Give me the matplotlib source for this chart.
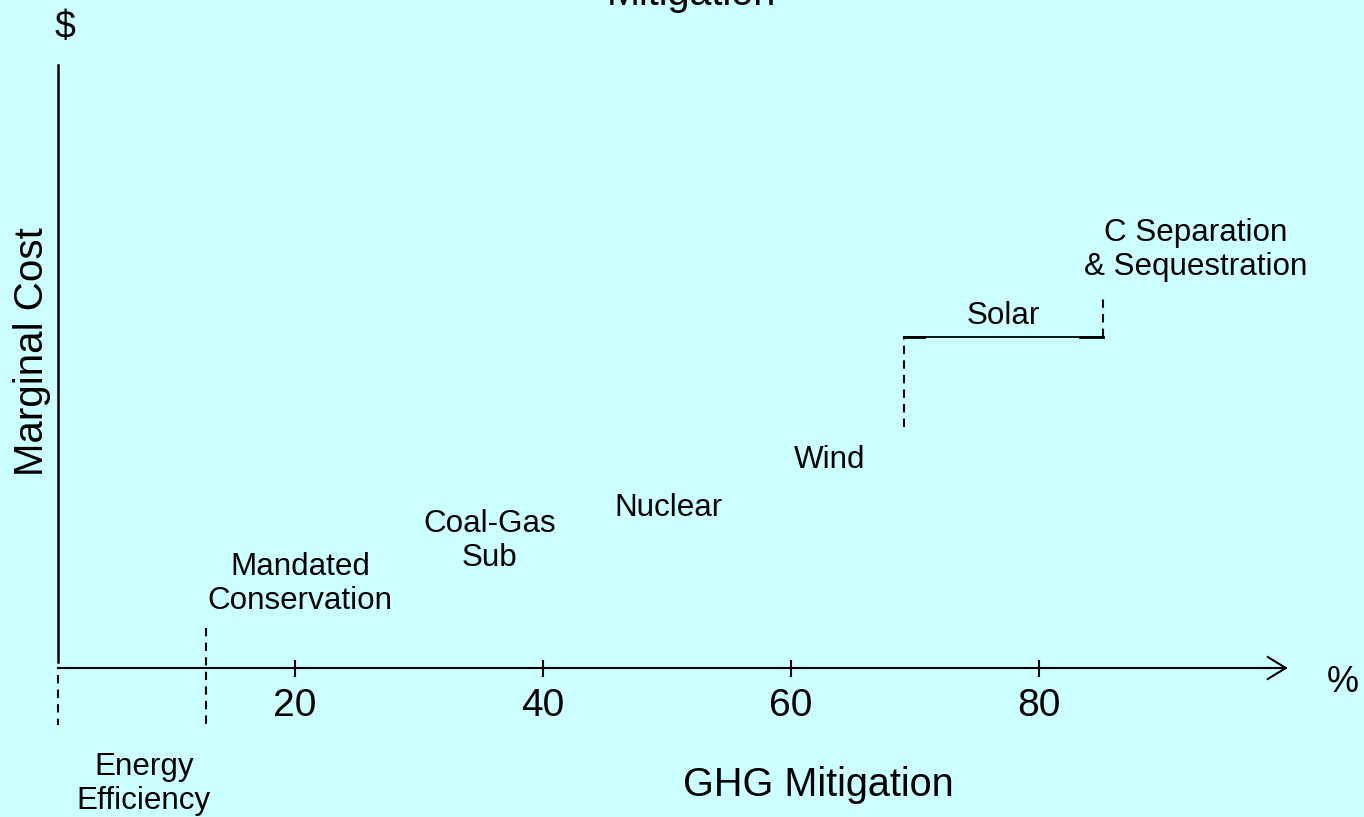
import numpy as np
import matplotlib
matplotlib.use("Agg")
import matplotlib.pyplot as plt
from matplotlib.patches import Rectangle

plt.rcParams['font.family'] = ['Liberation Sans', 'DejaVu Sans']

bg = '#ccffff'

# x in % GHG mitigation, y in arbitrary cost units (0 at the x axis)
x_ticks = [20, 40, 60, 80]
axis_x0 = 0.9
axis_x_end = 99.9
axis_y_top = 603
boundaries = [0.9, 12.8]          # dashed markers under the axis
solar_x = [69.1, 85.2]
solar_cost = 331
wind_top = 241                    # dashed riser before solar
cseq_top = 373                    # dashed riser after solar

labels = ['Energy\nEfficiency', 'Mandated\nConservation', 'Coal-Gas\nSub',
          'Nuclear', 'Wind', 'Solar', 'C Separation\n& Sequestration']
label_x = [7.8, 20.4, 35.7, 50.1, 63.1, 77.1, 92.6]
label_y = [-116, 84, 127, 160, 208, 352, 418]

fig = plt.figure(figsize=(13.64, 8.17), dpi=100, facecolor=bg)
ax = fig.add_axes([0, 0, 1, 1])
ax.set_facecolor(bg)
ax.set_xlim(-47 / 12.4, (1364 - 47) / 12.4)
ax.set_ylim(668 - 817, 668)
ax.axis('off')

# axes
ax.plot([axis_x0, axis_x0], [6, axis_y_top], color='black', lw=1.8)
ax.plot([axis_x0, axis_x_end], [0, 0], color='black', lw=1.5)
ax.plot([axis_x_end - 1.45, axis_x_end, axis_x_end - 1.45], [11, 0, -11],
        color='black', lw=1.5)
for t in x_ticks:
    ax.plot([t, t], [7, -8], color='black', lw=1.5)
    ax.text(t, -38, str(t), ha='center', va='center', fontsize=28)

# dashed markers below the axis
ax.plot([boundaries[0], boundaries[0]], [-7, -57], color='black', lw=1.5,
        ls=(0, (4, 3)))
ax.plot([boundaries[1], boundaries[1]], [40, -58], color='black', lw=1.5,
        ls=(0, (4, 3)))

# solar step
ax.plot([solar_x[0], solar_x[0]], [wind_top, solar_cost], color='black',
        lw=1.5, ls=(0, (4, 3)))
ax.plot(solar_x, [solar_cost, solar_cost], color='black', lw=1.3)
ax.plot([solar_x[0], solar_x[0] + 1.6], [solar_cost, solar_cost],
        color='black', lw=2)
ax.plot([solar_x[1] - 1.9, solar_x[1]], [solar_cost, solar_cost],
        color='black', lw=2)
ax.plot([solar_x[1], solar_x[1]], [solar_cost, cseq_top], color='black',
        lw=1.5, ls=(0, (4, 3)))

for lab, lx, ly in zip(labels, label_x, label_y):
    txt = ax.text(lx, ly, lab, ha='center', va='center', fontsize=22.6,
                  linespacing=1.2)
    if lab.startswith('Coal'):
        clip = Rectangle((30, 80), 10.8, 100, transform=ax.transData)
        txt.set_clip_path(clip)

ax.text(1.45, 640, '$', ha='center', va='center', fontsize=27)
ax.text(-1.2, 316, 'Marginal Cost', ha='center', va='center',
        rotation=90, fontsize=29)
ax.text(62.2, -117, 'GHG Mitigation', ha='center', va='center', fontsize=28.5)
ax.text(104.5, -15, '%', ha='center', va='center', fontsize=26)
ax.text(52.0, 663, 'Mitigation', ha='center', va='baseline', fontsize=28.5)

fig.savefig('out.png', dpi=100, facecolor=bg)
